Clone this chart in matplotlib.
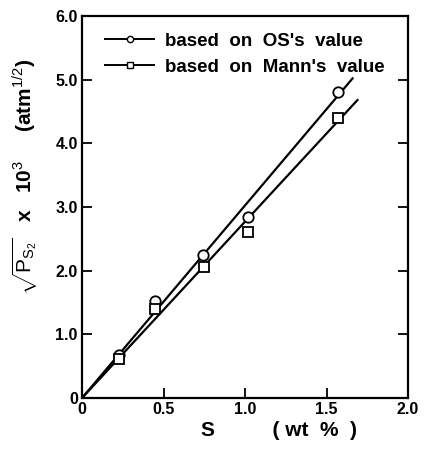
import numpy as np
import matplotlib.pyplot as plt

# --------------------------------------------------------
# Data
# --------------------------------------------------------

s_os = [0.23, 0.45, 0.74, 1.02, 1.57]
p_os = [0.68, 1.52, 2.25, 2.85, 4.80]

s_mann = [0.23, 0.45, 0.75, 1.02, 1.57]
p_mann = [0.62, 1.40, 2.05, 2.60, 4.40]

# fitted straight lines through the origin
os_fit_x = [0.0, 1.66]
os_fit_y = [0.0, 5.02]
mann_fit_x = [0.0, 1.69]
mann_fit_y = [0.0, 4.68]

xticks = [0, 0.5, 1.0, 1.5, 2.0]
xtick_labels = ["0", "0.5", "1.0", "1.5", "2.0"]
yticks = [0, 1, 2, 3, 4, 5, 6]
ytick_labels = ["0", "1.0", "2.0", "3.0", "4.0", "5.0", "6.0"]

# --------------------------------------------------------
# Plot
# --------------------------------------------------------

plt.rcParams["font.family"] = ["Liberation Sans", "DejaVu Sans"]
plt.rcParams["mathtext.fontset"] = "custom"
plt.rcParams["mathtext.rm"] = "Liberation Sans"
plt.rcParams["mathtext.it"] = "Liberation Sans"

fig = plt.figure(figsize=(4.33, 4.5), dpi=100)
ax = fig.add_axes([82 / 433, 1 - 398 / 450, (408 - 82) / 433, (398 - 16) / 450])

ax.plot(os_fit_x, os_fit_y, color="black", lw=1.6)
ax.plot(mann_fit_x, mann_fit_y, color="black", lw=1.6)

ax.plot(s_os, p_os, "o", ms=7.5, mfc="white", mec="black", mew=1.3)
ax.plot(s_mann, p_mann, "s", ms=6.5, mfc="white", mec="black", mew=1.3)

# legend entries
ax.plot([], [], "-o", color="black", ms=4.5, mfc="white", lw=1.4,
        label="based  on  OS's  value")
ax.plot([], [], "-s", color="black", ms=4.5, mfc="white", lw=1.4,
        label="based  on  Mann's  value")
leg = ax.legend(loc="upper left", bbox_to_anchor=(0.02, 1.0), frameon=False,
                handlelength=2.6, handletextpad=0.6, labelspacing=0.45,
                prop={"size": 13.5, "weight": "bold"})

ax.set_xlim(0, 1.97)
ax.set_ylim(0, 6.0)
ax.set_xticks(xticks)
ax.set_xticklabels(xtick_labels)
ax.set_yticks(yticks)
ax.set_yticklabels(ytick_labels)

ax.tick_params(direction="in", length=7, width=1.3, labelsize=11.5,
               right=True, top=False, left=True, bottom=True, pad=3)
for lab in ax.get_xticklabels() + ax.get_yticklabels():
    lab.set_fontweight("bold")

for sp in ax.spines.values():
    sp.set_linewidth(1.6)

ax.set_xlabel("S          ( wt  %  )", fontsize=15, fontweight="bold")
ax.xaxis.set_label_coords(0.605, -0.06, transform=ax.transAxes)
ax.xaxis.label.set_va("top")
ax.set_ylabel(r"$\sqrt{P_{S_2}}$   x   10$^3$     (atm$^{1/2}$)", fontsize=15,
              fontweight="bold")
ax.yaxis.set_label_coords(-0.13, 0.58, transform=ax.transAxes)

fig.savefig("out.png", dpi=100)
